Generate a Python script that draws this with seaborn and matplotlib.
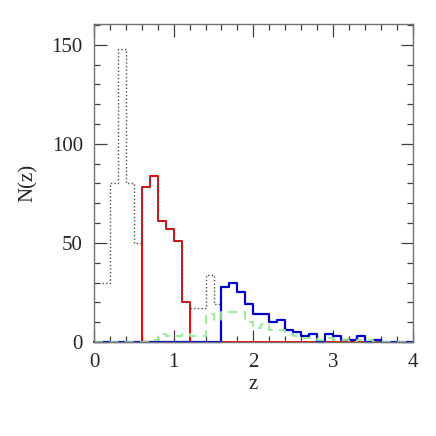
import numpy as np
import pandas as pd
import seaborn as sns
import matplotlib
matplotlib.use('Agg')
import matplotlib.pyplot as plt
from matplotlib.ticker import MultipleLocator

# redshift bins (width 0.1) from 0 to 4
z_edges = [round(0.1 * i, 1) for i in range(41)]
z_mid = [e + 0.05 for e in z_edges[:-1]]

# counts per bin
red_n = [0, 0, 0, 0, 0, 0, 78, 84, 61, 57, 51, 20] + [0] * 28
blue_n = [0] * 16 + [28, 30, 25, 19, 14, 14, 10, 11, 6, 5, 3, 4, 0, 4,
                     3, 1, 1, 3, 0, 1, 0, 0, 0, 0]
green_n = [0] * 7 + [1, 4, 3, 3, 4, 3, 3, 14, 11, 15, 15, 15, 10, 7, 9,
                     6, 6, 4, 3, 2, 2, 1, 2, 1, 1, 0, 1, 1, 0, 0, 0, 0, 0]
# dotted histogram only covers z = 0.1 .. 1.6
dot_edges = z_edges[1:17]
dot_mid = z_mid[1:16]
dot_n = [30, 80, 148, 80, 50, 78, 84, 61, 57, 51, 20, 17, 17, 34, 19]

red_df = pd.DataFrame({'z': z_mid, 'n': red_n})
blue_df = pd.DataFrame({'z': z_mid, 'n': blue_n})
green_df = pd.DataFrame({'z': z_mid, 'n': green_n})
dot_df = pd.DataFrame({'z': dot_mid, 'n': dot_n})

sns.set_style('ticks')
plt.rcParams['font.family'] = ['Liberation Serif', 'DejaVu Serif']
plt.rcParams['font.size'] = 15

fig = plt.figure(figsize=(4.36, 4.36), dpi=100)
ax = fig.add_axes([0.2156, 0.2156, 0.731, 0.7295])

sns.histplot(data=red_df, x='z', weights='n', bins=z_edges, element='step',
             fill=False, color='#ff0000', lw=1.4, ax=ax)
sns.histplot(data=blue_df, x='z', weights='n', bins=z_edges, element='step',
             fill=False, color='#0000cc', lw=1.6, ax=ax)
sns.histplot(data=dot_df, x='z', weights='n', bins=dot_edges, element='step',
             fill=False, color='0.3', lw=1.0, linestyle=(0, (1, 1.6)), ax=ax)
sns.histplot(data=green_df, x='z', weights='n', bins=z_edges, element='step',
             fill=False, color='#90ee90', lw=1.3, linestyle=(0, (5, 3.5)), ax=ax)

for ln in ax.lines:
    ln.set_clip_on(False)

ax.set_xlim(0, 4)
ax.set_ylim(0, 160.5)
ax.xaxis.set_major_locator(MultipleLocator(1))
ax.xaxis.set_minor_locator(MultipleLocator(0.2))
ax.yaxis.set_major_locator(MultipleLocator(50))
ax.yaxis.set_minor_locator(MultipleLocator(10))
ax.tick_params(which='both', direction='in', top=True, right=True,
               color='0.25', width=0.9, labelsize=15, pad=8)
ax.tick_params(which='major', length=9)
ax.tick_params(which='minor', length=4.5)
for sp in ax.spines.values():
    sp.set_color('0.45')
    sp.set_linewidth(1.0)

ax.set_xlabel('z', fontsize=15, labelpad=2)
ax.set_ylabel('N(z)', fontsize=15, labelpad=10)

fig.savefig('out.png', dpi=100)
